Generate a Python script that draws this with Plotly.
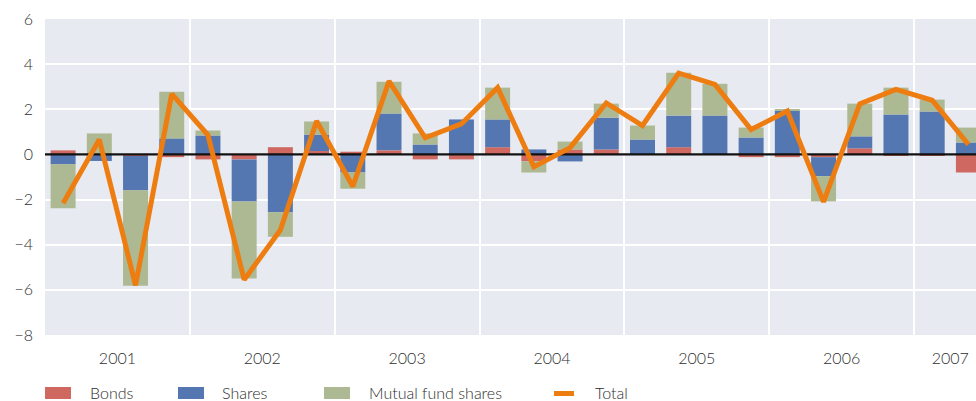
import plotly.graph_objects as go

# quarters 2001Q1 .. 2007Q2
quarters = [f"{y}Q{q}" for y in range(2001, 2008) for q in range(1, 5)][:26]
bonds = [0.18, 0.0, -0.07, -0.12, -0.22, -0.22, 0.32, 0.15, 0.12, 0.18, -0.22, -0.22, 0.32,
         -0.30, 0.22, 0.22, 0.0, 0.32, 0.0, -0.12, -0.12, -0.12, 0.27, -0.07, -0.07, -0.80]
shares = [-0.44, -0.29, -1.52, 0.71, 0.84, -1.86, -2.56, 0.73, -0.80, 1.63, 0.44, 1.55, 1.23,
          0.22, -0.31, 1.41, 0.66, 1.40, 1.72, 0.75, 1.96, -0.84, 0.53, 1.77, 1.90, 0.53]
mutual = [-1.94, 0.93, -4.23, 2.07, 0.22, -3.42, -1.09, 0.58, -0.72, 1.41, 0.49, 0.0, 1.41,
          -0.50, 0.35, 0.62, 0.62, 1.90, 1.41, 0.44, 0.04, -1.12, 1.45, 1.19, 0.53, 0.66]
total = [-2.16, 0.66, -5.80, 2.68, 0.86, -5.55, -3.35, 1.48, -1.42, 3.25, 0.74, 1.35, 2.96,
         -0.55, 0.30, 2.28, 1.28, 3.60, 3.10, 1.10, 1.92, -2.10, 2.24, 2.88, 2.40, 0.44]
year_labels = ["2001", "2002", "2003", "2004", "2005", "2006", "2007"]
y_ticks = [-8, -6, -4, -2, 0, 2, 4, 6]

series_names = ["Bonds", "Shares", "Mutual fund shares"]
colors = ["#CF6860", "#5577B1", "#ADB992"]
orange = "#EE7D11"
text_col = "#2e2e2e"
FONT = "Lato"
FS = 16

x = list(range(len(quarters)))
year_pos = [i * 4 + 1.5 for i in range(6)] + [24.5]
year_bounds = [i * 4 + 3.5 for i in range(6)]
x_range = [-0.5, 25.21]

fig = go.Figure()
for name, vals, c in zip(series_names, [bonds, shares, mutual], colors):
    fig.add_trace(go.Bar(x=x, y=vals, name=name, marker=dict(color=c, line=dict(width=0)),
                         width=0.69, showlegend=False))
# zero line (drawn above bars, below total line)
fig.add_trace(go.Scatter(x=x_range, y=[0, 0], mode="lines", line=dict(color="#111111", width=2.2),
                         showlegend=False, hoverinfo="skip"))
fig.add_trace(go.Scatter(x=x, y=total, mode="lines", name="Total",
                         line=dict(color=orange, width=5), showlegend=False))

fig.update_layout(
    width=976, height=401,
    margin=dict(l=45, r=0, t=19, b=66),
    paper_bgcolor="white", plot_bgcolor="#E8EAF2",
    barmode="relative",
    font=dict(family=FONT, size=FS, color=text_col, weight=300),
    xaxis=dict(range=x_range, tickmode="array", tickvals=year_pos, ticktext=year_labels,
               showgrid=False, zeroline=False, ticks="", ticklabelstandoff=12,
               minor=dict(tickvals=year_bounds, showgrid=True, gridcolor="white", gridwidth=1.5, ticks="")),
    yaxis=dict(range=[-8, 6], tickvals=y_ticks, showgrid=True, gridcolor="white", gridwidth=1.5,
               zeroline=False, ticks="", ticklabelstandoff=11),
)

# manual legend below the plot (pixel -> paper coordinates)
pw, ph, pl, pt = 931, 316, 45, 19
def px(xp):
    return (xp - pl) / pw
def py(yp):
    return (pt + ph - yp) / ph

legend_items = [(45, 88, "Bonds", colors[0]), (178, 220, "Shares", colors[1]),
                (324, 367, "Mutual fund shares", colors[2])]
for x0, tx, label, c in legend_items:
    fig.add_shape(type="rect", xref="paper", yref="paper", x0=px(x0), x1=px(x0 + 26),
                  y0=py(399), y1=py(387), fillcolor=c, line=dict(width=0))
    fig.add_annotation(xref="paper", yref="paper", x=px(tx), y=py(392), text=label,
                       showarrow=False, xanchor="left", yanchor="middle",
                       font=dict(family=FONT, size=FS, color=text_col, weight=300))
fig.add_shape(type="line", xref="paper", yref="paper", x0=px(554), x1=px(574), y0=py(393.5), y1=py(393.5),
              line=dict(color=orange, width=5))
fig.add_annotation(xref="paper", yref="paper", x=px(593), y=py(392), text="Total",
                   showarrow=False, xanchor="left", yanchor="middle",
                   font=dict(family=FONT, size=FS, color=text_col, weight=300))

fig.write_html("out.html", config={"displayModeBar": False})
with open("out.html", "r", encoding="utf-8") as f:
    html = f.read()
html = html.replace("<head>", "<head><style>html,body{margin:0;padding:0;overflow:hidden;}</style>", 1)
with open("out.html", "w", encoding="utf-8") as f:
    f.write(html)
